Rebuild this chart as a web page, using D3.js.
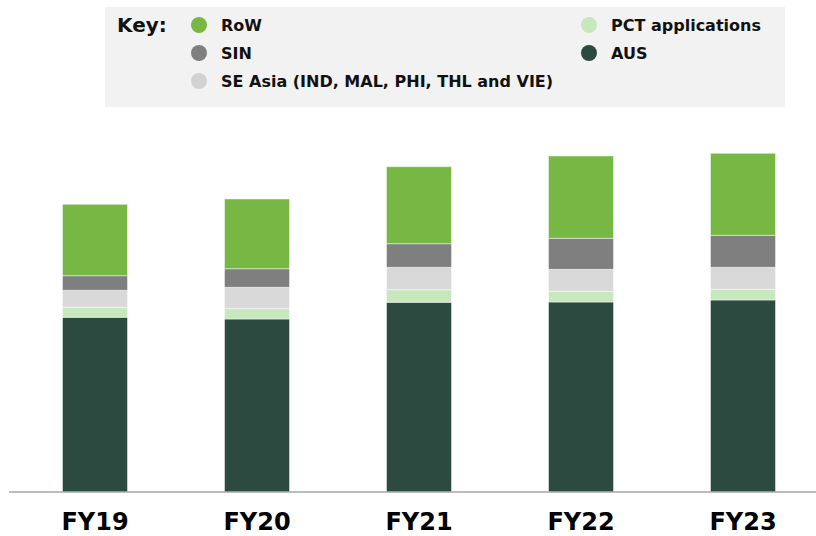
<!DOCTYPE html>
<html>
<head>
<meta charset="utf-8">
<script src="https://cdn.jsdelivr.net/npm/d3@7"></script>
<style>
  html, body { margin: 0; padding: 0; background: #fff; }
  #viewportContainer { width: 816px; height: 536px; }
</style>
</head>
<body>
<div id="viewportContainer"></div>
<script>
/* --- data (thousands) --- */
const years = ["FY19", "FY20", "FY21", "FY22", "FY23"];
const seriesKeys = ["AUS", "PCT", "SEAsia", "SIN", "RoW"];
const ausValues = [17.47, 17.3, 18.97, 19.0, 19.2];
const pctValues = [1.0, 1.03, 1.26, 1.07, 1.07];
const seAsiaValues = [1.7, 2.14, 2.24, 2.2, 2.2];
const sinValues = [1.46, 1.86, 2.36, 3.1, 3.2];
const rowValues = [7.14, 6.97, 7.7, 8.23, 8.2];

/* --- legend labels --- */
const legendLeft = ["RoW", "SIN", "SE Asia (IND, MAL, PHI, THL and VIE)"];
const legendRight = ["PCT applications", "AUS"];

const colors = {
  RoW: "#76b843",
  SIN: "#7f7f7f",
  SEAsia: "#d9d9d9",
  PCT: "#c7e8bc",
  AUS: "#2c4a3f",
};
const legendColors = {
  RoW: "#76b843",
  SIN: "#7f7f7f",
  "SE Asia (IND, MAL, PHI, THL and VIE)": "#d2d2d2",
  "PCT applications": "#c7e8bc",
  AUS: "#2c4a3f",
};

const viewport = { width: 816, height: 536 };
const baseline = 492;
const barWidth = 65;
const fontFamily = "'DejaVu Sans', Verdana, sans-serif";

let drawChart = function () {
  console.log("drawChart");

  const svg = d3
    .select("#viewportContainer")
    .append("svg")
    .attr("width", viewport.width)
    .attr("height", viewport.height);

  /*--- legend box ---*/
  const legend = svg.append("g").attr("id", "legendContainer");
  legend
    .append("rect")
    .attr("x", 105)
    .attr("y", 7)
    .attr("width", 680)
    .attr("height", 100)
    .attr("fill", "#f2f2f2");

  legend
    .append("text")
    .attr("x", 117)
    .attr("y", 32)
    .attr("font-family", fontFamily)
    .attr("font-weight", "bold")
    .attr("font-size", "20px")
    .attr("fill", "#111")
    .text("Key:");

  const drawLegendCol = function (items, cx) {
    items.forEach((name, i) => {
      const cy = 25 + i * 28;
      legend
        .append("circle")
        .attr("cx", cx)
        .attr("cy", cy)
        .attr("r", 8)
        .attr("fill", legendColors[name]);
      legend
        .append("text")
        .attr("x", cx + 22)
        .attr("y", cy + 6)
        .attr("font-family", fontFamily)
        .attr("font-weight", "bold")
        .attr("font-size", "16px")
        .attr("fill", "#111")
        .text(name);
    });
  };
  drawLegendCol(legendLeft, 199);
  drawLegendCol(legendRight, 589);

  /*--- stack ---*/
  const table = years.map((y, i) => ({
    year: y,
    AUS: ausValues[i],
    PCT: pctValues[i],
    SEAsia: seAsiaValues[i],
    SIN: sinValues[i],
    RoW: rowValues[i],
  }));
  const stacked = d3.stack().keys(seriesKeys)(table);

  const x = d3.scalePoint().domain(years).range([14, 824]).padding(0.5);
  const y = d3.scaleLinear().domain([0, 35]).range([baseline, 142]);

  const chart = svg.append("g").attr("id", "chartContainer");
  chart
    .selectAll("g.series")
    .data(stacked)
    .enter()
    .append("g")
    .attr("class", "series")
    .attr("fill", (d) => colors[d.key])
    .selectAll("rect")
    .data((d) => d)
    .enter()
    .append("rect")
    .attr("x", (d) => x(d.data.year) - barWidth / 2)
    .attr("y", (d) => y(d[1]))
    .attr("width", barWidth)
    .attr("height", (d) => y(d[0]) - y(d[1]))
    .attr("stroke", "rgba(255,255,255,0.45)")
    .attr("stroke-width", 1);

  /*--- x axis ---*/
  svg
    .append("line")
    .attr("x1", 9)
    .attr("x2", 816)
    .attr("y1", baseline)
    .attr("y2", baseline)
    .attr("stroke", "#a6a6a6")
    .attr("stroke-width", 1.5);

  svg
    .append("g")
    .selectAll("text")
    .data(years)
    .enter()
    .append("text")
    .attr("x", (d) => x(d))
    .attr("y", 530)
    .attr("text-anchor", "middle")
    .attr("font-family", fontFamily)
    .attr("font-weight", "bold")
    .attr("font-size", "24px")
    .attr("fill", "#000")
    .text((d) => d);
};

drawChart();
</script>
</body>
</html>
